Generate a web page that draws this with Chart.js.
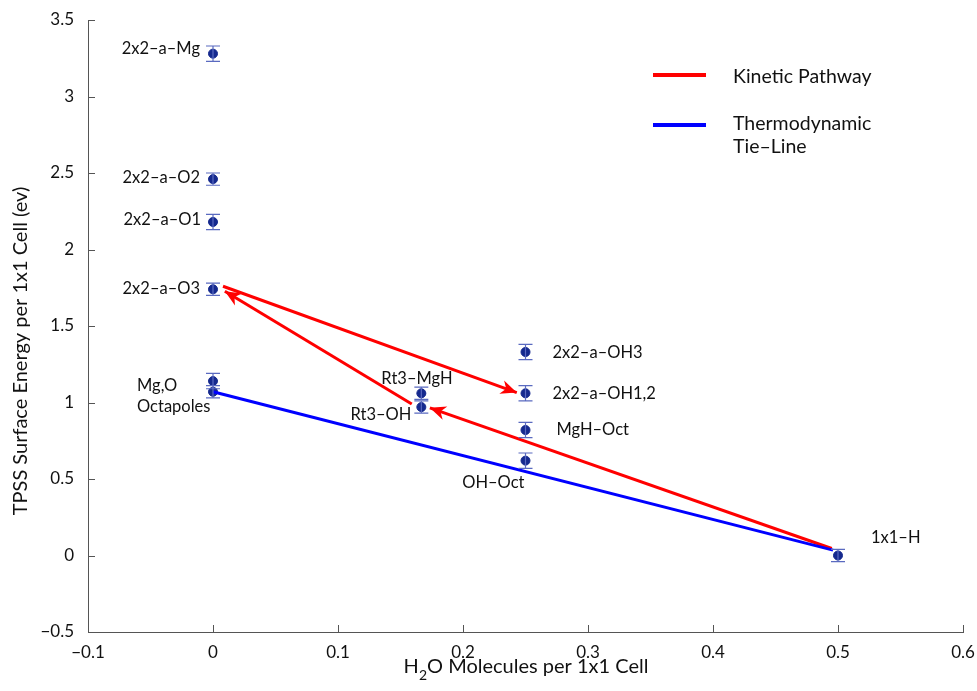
<!DOCTYPE html>
<html>
<head>
<meta charset="utf-8">
<script src="https://cdn.jsdelivr.net/npm/chart.js@4.4.1/dist/chart.umd.min.js"></script>
<style>
  html, body { margin: 0; padding: 0; background: #fff; }
  #wrap { width: 977px; height: 691px; }
</style>
</head>
<body>
<div id="wrap"><canvas id="energyChart" width="977" height="691"></canvas></div>
<script>
// surface structures (x = H2O per 1x1 cell, y = TPSS energy)
const structureNames = ['2x2–a–Mg', '2x2–a–O2', '2x2–a–O1', '2x2–a–O3', 'Mg,O Octapole', 'Mg,O Octapole',
  'Rt3–MgH', 'Rt3–OH', '2x2–a–OH3', '2x2–a–OH1,2', 'MgH–Oct', 'OH–Oct', '1x1–H'];
const waterPerCell = [0, 0, 0, 0, 0, 0, 1 / 6, 1 / 6, 0.25, 0.25, 0.25, 0.25, 0.5];
const surfaceEnergy = [3.28, 2.46, 2.18, 1.74, 1.14, 1.07, 1.06, 0.97, 1.33, 1.06, 0.82, 0.62, 0.0];
const energyError = [0.05, 0.04, 0.05, 0.04, 0.05, 0.04, 0.04, 0.04, 0.05, 0.05, 0.05, 0.05, 0.04];

// kinetic pathway arrows [fromX, fromY, toX, toY]
const kineticArrows = [
  [0.008, 1.76, 0.243, 1.065],
  [0.495, 0.046, 0.1735, 0.965],
  [0.159, 0.99, 0.0095, 1.727]
];
// thermodynamic tie-line
const tieLineX = [0, 0.496];
const tieLineY = [1.07, 0.035];

const xTicks = [-0.1, 0, 0.1, 0.2, 0.3, 0.4, 0.5, 0.6];
const yTicks = [-0.5, 0, 0.5, 1, 1.5, 2, 2.5, 3, 3.5];

const FONT = 'Lato, "Open Sans", sans-serif';
const dash = s => String(s).replace('-', '−');

// where each point label goes (pixels relative to the point)
const labelPlacement = [
  { text: ['2x2–a–Mg'], dx: -13, dy: -5, align: 'right' },
  { text: ['2x2–a–O2'], dx: -13, dy: -1, align: 'right' },
  { text: ['2x2–a–O1'], dx: -12, dy: -2, align: 'right' },
  { text: ['2x2–a–O3'], dx: -13, dy: -1, align: 'right' },
  { text: ['Mg,O', 'Octapoles'], dx: -76, dy: 5, align: 'left' },
  null,
  { text: ['Rt3–MgH'], dx: -40, dy: -15, align: 'left' },
  { text: ['Rt3–OH'], dx: -10, dy: 8, align: 'right' },
  { text: ['2x2–a–OH3'], dx: 27, dy: 1, align: 'left' },
  { text: ['2x2–a–OH1,2'], dx: 27, dy: 0, align: 'left' },
  { text: ['MgH–Oct'], dx: 31, dy: 0, align: 'left' },
  { text: ['OH–Oct'], dx: -1, dy: 22, align: 'right' },
  { text: ['1x1–H'], dx: 33, dy: -18, align: 'left' }
];

const points = waterPerCell.map((x, i) => ({ x: x, y: surfaceEnergy[i] }));

const datasets = [];
datasets.push({
  type: 'line',
  label: 'Thermodynamic Tie-Line',
  data: tieLineX.map((x, i) => ({ x: x, y: tieLineY[i] })),
  borderColor: '#0000ff',
  borderWidth: 3,
  pointRadius: 0,
  fill: false
});
kineticArrows.forEach(a => {
  datasets.push({
    type: 'line',
    label: 'Kinetic Pathway',
    data: [{ x: a[0], y: a[1] }, { x: a[2], y: a[3] }],
    borderColor: '#ff0000',
    borderWidth: 3,
    pointRadius: 0,
    fill: false,
    arrow: true
  });
});
datasets.push({
  type: 'scatter',
  label: 'Structures',
  data: points,
  backgroundColor: '#15298e',
  borderColor: '#15298e',
  pointRadius: 4.5,
  errors: energyError
});

// error bars, arrowheads, inward ticks, titles, labels and legend
const extrasPlugin = {
  id: 'extras',
  afterDatasetsDraw(chart) {
    const ctx = chart.ctx;
    const xs = chart.scales.x, ys = chart.scales.y;
    const area = chart.chartArea;

    // error bars
    ctx.save();
    ctx.strokeStyle = '#5a6ac0';
    ctx.lineWidth = 1.2;
    points.forEach((p, i) => {
      const px = xs.getPixelForValue(p.x);
      const top = ys.getPixelForValue(p.y + energyError[i]);
      const bot = ys.getPixelForValue(p.y - energyError[i]);
      ctx.beginPath();
      ctx.moveTo(px, top); ctx.lineTo(px, bot);
      ctx.moveTo(px - 7, top); ctx.lineTo(px + 7, top);
      ctx.moveTo(px - 7, bot); ctx.lineTo(px + 7, bot);
      ctx.stroke();
    });
    ctx.restore();

    // arrowheads
    ctx.save();
    ctx.fillStyle = '#ff0000';
    chart.data.datasets.forEach(ds => {
      if (!ds.arrow) return;
      const a = ds.data[0], b = ds.data[1];
      const x1 = xs.getPixelForValue(a.x), y1 = ys.getPixelForValue(a.y);
      const x2 = xs.getPixelForValue(b.x), y2 = ys.getPixelForValue(b.y);
      const ang = Math.atan2(y2 - y1, x2 - x1);
      const len = 16, half = 7;
      ctx.beginPath();
      ctx.moveTo(x2, y2);
      ctx.lineTo(x2 - len * Math.cos(ang) + half * Math.sin(ang), y2 - len * Math.sin(ang) - half * Math.cos(ang));
      ctx.lineTo(x2 - len * 0.7 * Math.cos(ang), y2 - len * 0.7 * Math.sin(ang));
      ctx.lineTo(x2 - len * Math.cos(ang) - half * Math.sin(ang), y2 - len * Math.sin(ang) + half * Math.cos(ang));
      ctx.closePath();
      ctx.fill();
    });
    ctx.restore();

    // inward tick marks
    ctx.save();
    ctx.strokeStyle = '#555';
    ctx.lineWidth = 1;
    ctx.beginPath();
    xTicks.forEach(v => {
      const px = Math.round(xs.getPixelForValue(v)) + 0.5;
      ctx.moveTo(px, area.bottom); ctx.lineTo(px, area.bottom - 7);
    });
    yTicks.forEach(v => {
      const py = Math.round(ys.getPixelForValue(v)) + 0.5;
      ctx.moveTo(area.left, py); ctx.lineTo(area.left + 7, py);
    });
    ctx.stroke();
    ctx.restore();

    // axis titles (x title has a subscript 2)
    ctx.save();
    ctx.fillStyle = '#111';
    ctx.font = '20px ' + FONT;
    ctx.textBaseline = 'middle';
    const w1 = ctx.measureText('H').width;
    ctx.font = '14px ' + FONT;
    const w2 = ctx.measureText('2').width;
    ctx.font = '20px ' + FONT;
    const rest = 'O Molecules per 1x1 Cell';
    const w3 = ctx.measureText(rest).width;
    let tx = 526 - (w1 + w2 + w3) / 2;
    ctx.textAlign = 'left';
    ctx.fillText('H', tx, 667);
    ctx.font = '14px ' + FONT;
    ctx.fillText('2', tx + w1, 675);
    ctx.font = '20px ' + FONT;
    ctx.fillText(rest, tx + w1 + w2, 667);

    ctx.translate(21, 351);
    ctx.rotate(-Math.PI / 2);
    ctx.textAlign = 'center';
    ctx.fillText('TPSS Surface Energy per 1x1 Cell (ev)', 0, 0);
    ctx.restore();

    // point labels
    ctx.save();
    ctx.fillStyle = '#111';
    ctx.font = '16.5px ' + FONT;
    ctx.textBaseline = 'middle';
    labelPlacement.forEach((lp, i) => {
      if (!lp) return;
      const px = xs.getPixelForValue(points[i].x);
      const py = ys.getPixelForValue(points[i].y);
      ctx.textAlign = lp.align;
      lp.text.forEach((t, k) => ctx.fillText(t, px + lp.dx, py + lp.dy + k * 21));
    });
    ctx.restore();

    // legend
    ctx.save();
    ctx.lineWidth = 4;
    ctx.strokeStyle = '#ff0000';
    ctx.beginPath(); ctx.moveTo(653, 75); ctx.lineTo(706, 75); ctx.stroke();
    ctx.strokeStyle = '#0000ff';
    ctx.beginPath(); ctx.moveTo(653, 125); ctx.lineTo(706, 125); ctx.stroke();
    ctx.fillStyle = '#111';
    ctx.font = '19.5px ' + FONT;
    ctx.textAlign = 'left';
    ctx.textBaseline = 'middle';
    ctx.fillText('Kinetic Pathway', 733, 77);
    ctx.fillText('Thermodynamic', 733, 124);
    ctx.fillText('Tie–Line', 733, 147);
    ctx.restore();
  }
};

const ctx = document.getElementById('energyChart').getContext('2d');
new Chart(ctx, {
  type: 'scatter',
  data: { datasets: datasets },
  plugins: [extrasPlugin],
  options: {
    responsive: false,
    animation: false,
    layout: { padding: { left: 0, top: 20, right: 14, bottom: 0 } },
    plugins: {
      legend: { display: false },
      tooltip: { enabled: false }
    },
    scales: {
      x: {
        type: 'linear',
        min: -0.1,
        max: 0.6,
        afterBuildTicks: axis => { axis.ticks = xTicks.map(v => ({ value: v })); },
        afterFit: axis => { axis.height = 59; },
        grid: { display: false },
        border: { display: true, color: '#555', width: 1 },
        ticks: {
          color: '#111',
          font: { family: FONT, size: 17 },
          padding: 2,
          maxRotation: 0,
          callback: v => dash(v)
        }
      },
      y: {
        type: 'linear',
        min: -0.5,
        max: 3.5,
        afterBuildTicks: axis => { axis.ticks = yTicks.map(v => ({ value: v })); },
        afterFit: axis => { axis.width = 88; },
        grid: { display: false },
        border: { display: true, color: '#555', width: 1 },
        ticks: {
          color: '#111',
          font: { family: FONT, size: 17 },
          padding: 6,
          callback: v => dash(v)
        }
      }
    }
  }
});
</script>
</body>
</html>
